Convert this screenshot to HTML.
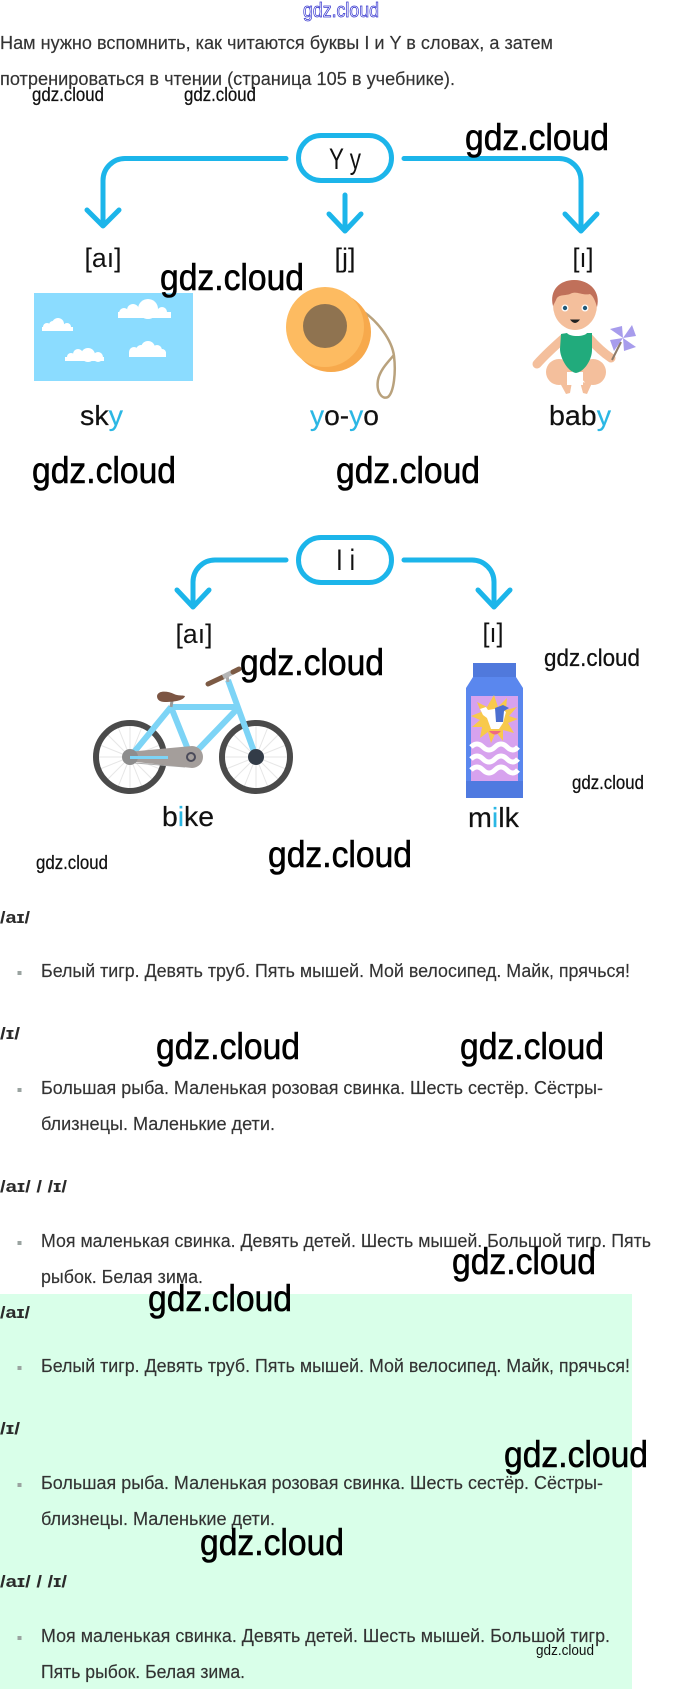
<!DOCTYPE html>
<html lang="ru">
<head>
<meta charset="utf-8">
<title>gdz.cloud</title>
<style>
html,body{margin:0;padding:0;background:#fff;width:680px;height:1689px;overflow:hidden}
svg{display:block}
text{font-family:"Liberation Sans","DejaVu Sans",sans-serif}
.t{font-size:18px;fill:#333;stroke:#333;stroke-width:.15}
.b{font-size:17px;font-weight:bold;fill:#2b2b2b}
.w{font-size:37px;fill:#000;stroke:#000;stroke-width:.6}
.s{font-size:19px;fill:#111;stroke:#111;stroke-width:.25}
.l{font-size:27px;fill:#111}
.h{font-size:30px;fill:#111}
.k{font-size:28px;fill:#111;stroke:#111;stroke-width:.2}
.c{fill:#2bb7e4;stroke:#2bb7e4}
.a{fill:none;stroke:#1cb5ea;stroke-width:5;stroke-linecap:round;stroke-linejoin:round}
</style>
</head>
<body>
<svg xmlns="http://www.w3.org/2000/svg" width="680" height="1689" viewBox="0 0 680 1689">
<rect width="680" height="1689" fill="#fff"/>
<rect x="0" y="1294" width="632" height="395" fill="#d9ffe9"/>

<!-- Intro -->
<text x="0" y="49" class="t" textLength="553" lengthAdjust="spacingAndGlyphs">Нам нужно вспомнить, как читаются буквы I и Y в словах, а затем</text>
<text x="0" y="85" class="t" textLength="455" lengthAdjust="spacingAndGlyphs">потренироваться в чтении (страница 105 в учебнике).</text>

<!-- Diagram Y -->
<rect x="298.500" y="135.500" width="93" height="45" rx="22.500" fill="#fff" class="a"/>
<text x="329" y="169" class="h" textLength="32" lengthAdjust="spacingAndGlyphs">Y y</text>
<path class="a" d="M286 158.500H125A22 22 0 0 0 103 180.500V226M87 210L103 226L119 210"/>
<path class="a" d="M345 195V231M329 214L345 231L361 214"/>
<path class="a" d="M404 158.500H559A22 22 0 0 1 581 180.500V231M565 214L581 231L597 214"/>
<text x="103" y="267" text-anchor="middle" class="l" textLength="37" lengthAdjust="spacingAndGlyphs">[aı]</text>
<text x="345" y="267" text-anchor="middle" class="l">[j]</text>
<text x="583" y="267" text-anchor="middle" class="l" textLength="21" lengthAdjust="spacingAndGlyphs">[ı]</text>

<!-- Sky -->
<rect x="34" y="293" width="159" height="88" fill="#8bdcff"/>
<g fill="#fff">
<rect x="118" y="312" width="53" height="6"/><circle cx="124" cy="313" r="5"/><circle cx="133" cy="310" r="6"/><circle cx="148" cy="309" r="10"/><circle cx="162" cy="312" r="5"/><circle cx="168" cy="315" r="3"/>
<rect x="42" y="327" width="31" height="4"/><circle cx="47" cy="327" r="4"/><circle cx="58" cy="324" r="6"/><circle cx="53" cy="325" r="4"/><circle cx="67" cy="327" r="4"/>
<rect x="65" y="357" width="39" height="4"/><circle cx="71" cy="357" r="4"/><circle cx="78" cy="354" r="5"/><circle cx="88" cy="355" r="7"/><circle cx="98" cy="357" r="5"/>
<rect x="129" y="352" width="37" height="5"/><circle cx="134" cy="352" r="5"/><circle cx="141" cy="350" r="5"/><circle cx="148" cy="348" r="7"/><circle cx="157" cy="350" r="5"/><circle cx="162" cy="353" r="4"/>
</g>

<!-- Yo-yo -->
<path d="M364 312C378 322 392 340 394 356C396 372 394 392 388 397C382 400 376 392 378 380C380 370 388 362 394 355" fill="none" stroke="#b9a27d" stroke-width="2.500"/>
<ellipse cx="331" cy="332" rx="40" ry="40" fill="#f7a94c"/>
<ellipse cx="325" cy="327" rx="39" ry="40" fill="#fdbb61"/>
<ellipse cx="325" cy="326" rx="22" ry="22" fill="#8f7350"/>

<!-- Baby -->
<g>
<path d="M564 338C556 345 546 354 537 364" fill="none" stroke="#f4bf9c" stroke-width="9" stroke-linecap="round"/>
<path d="M589 338C596 346 602 352 611 358" fill="none" stroke="#f4bf9c" stroke-width="9" stroke-linecap="round"/>
<ellipse cx="559" cy="372" rx="13" ry="13" fill="#f4bf9c"/>
<ellipse cx="593" cy="372" rx="13" ry="13" fill="#f4bf9c"/>
<path d="M560 383L572 382L570 393L566 394Z" fill="#f4bf9c"/>
<path d="M580 382L592 383L587 394L583 393Z" fill="#f4bf9c"/>
<rect x="567" y="372" width="16" height="13" fill="#fff"/>
<path d="M561 334L567 333C570 337 584 337 587 333L592 333L592 350C592 360 584 372 576 373C568 372 560 358 560 349Z" fill="#21ab7c"/>
<ellipse cx="575" cy="305" rx="22" ry="25" fill="#f4bf9c"/>
<path d="M553 306C549 290 560 280 574 280C590 280 601 292 597 307C595 300 593 296 590 294C582 296 576 290 570 294C564 296 558 294 556 300Z" fill="#c0705a"/>
<circle cx="565" cy="308" r="3.500" fill="#fff"/><circle cx="565" cy="308" r="2.200" fill="#235a7a"/>
<circle cx="585" cy="308" r="3.500" fill="#fff"/><circle cx="585" cy="308" r="2.200" fill="#235a7a"/>
<path d="M571 320Q575 325 579 320Z" fill="#222" stroke="#222" stroke-width="1"/>
<line x1="612" y1="360" x2="621" y2="342" stroke="#8d7b6a" stroke-width="2"/>
<g fill="#a79cec">
<path d="M623 338L610 329L622 326Z"/>
<path d="M623 338L632 325L636 336Z"/>
<path d="M623 338L636 347L624 351Z"/>
<path d="M623 338L614 351L610 340Z"/>
</g>
</g>

<!-- Words -->
<text x="80" y="425" class="k" textLength="43" lengthAdjust="spacingAndGlyphs">sk<tspan class="c">y</tspan></text>
<text x="310" y="425" class="k" textLength="69" lengthAdjust="spacingAndGlyphs"><tspan class="c">y</tspan>o-<tspan class="c">y</tspan>o</text>
<text x="549" y="425" class="k" textLength="62" lengthAdjust="spacingAndGlyphs">bab<tspan class="c">y</tspan></text>

<!-- Diagram I -->
<rect x="298.500" y="537.500" width="93" height="45" rx="22.500" fill="#fff" class="a"/>
<text x="336" y="570" class="h" textLength="19" lengthAdjust="spacingAndGlyphs">I i</text>
<path class="a" d="M286 560H215A22 22 0 0 0 193 582V607M177 590L193 607L209 590"/>
<path class="a" d="M404 560H472A22 22 0 0 1 494 582V607M478 590L494 607L510 590"/>
<text x="194" y="643" text-anchor="middle" class="l" textLength="37" lengthAdjust="spacingAndGlyphs">[aı]</text>
<text x="493" y="642" text-anchor="middle" class="l" textLength="21" lengthAdjust="spacingAndGlyphs">[ı]</text>

<!-- Bike -->
<g fill="none">
<g stroke="#e6e6e6" stroke-width="1">
<path d="M130 725V789M98 757H162M107 734L153 780M107 780L153 734M118 727L142 787M118 787L142 727M100 745L160 769M100 769L160 745"/>
<path d="M256 725V789M224 757H288M233 734L279 780M233 780L279 734M244 727L268 787M244 787L268 727M226 745L286 769M226 769L286 745"/>
</g>
<circle cx="130" cy="757" r="34" stroke="#4a4a4a" stroke-width="6"/>
<circle cx="256" cy="757" r="34" stroke="#4a4a4a" stroke-width="6"/>
<path d="M135 763L185 767" stroke="#aaa" stroke-width="1"/>
<path d="M171 707H239M239 707L191 757M171 707L191 757M171 707L130 757M228 680L256 757" stroke="#7dd4f6" stroke-width="6"/>
<path d="M127 752L192 746A11 11 0 0 1 192 768L127 761Z" fill="#a49e9b"/>
<circle cx="130" cy="757" r="8" fill="#8d8d8d"/>
<path d="M130 757.500H168" stroke="#7dd4f6" stroke-width="3"/>
<circle cx="191" cy="757" r="4" stroke="#4b4b5a" stroke-width="2" fill="#a49e9b"/>
<circle cx="256" cy="757" r="8" fill="#333c48"/>
<path d="M171 707L172 701" stroke="#999" stroke-width="3"/>
<path d="M157 696C158 690 168 691 174 694C178 696 182 695 185 696C184 700 176 702 165 702C160 702 157 700 157 696Z" fill="#7c5543"/>
<path d="M227 675L228 682" stroke="#aaa" stroke-width="3"/>
<path d="M208 684L223 677" stroke="#7c5a44" stroke-width="5" stroke-linecap="round"/>
<path d="M223 677L233 672" stroke="#b5b5b5" stroke-width="5"/>
<path d="M233 672L239 669" stroke="#7c5a44" stroke-width="5" stroke-linecap="round"/>
</g>

<!-- Milk -->
<g>
<path d="M473 663H516V677L523 688V798H466V688L473 677Z" fill="#5a87ee"/>
<path d="M473 663H516V677H473Z" fill="#5079dc"/>
<path d="M466 781H523V798H466Z" fill="#4f7ae0"/>
<rect x="471" y="696" width="47" height="85" fill="#d7a2ee"/>
<path d="M494 695L498 707L507 698L506 710L517 707L509 716L518 719L508 723L514 733L503 730L503 741L496 732L491 743L488 732L480 738L482 727L472 727L480 720L471 716L481 712L477 702L487 707Z" fill="#f8c94b"/>
<path d="M480 709L486 707L488 710L500 708L506 712L503 723L499 729H491L487 718L483 715Z" fill="#fff"/>
<path d="M495 708L503 705L509 708L504 711L503 722L496 722Z" fill="#4c6fd0"/>
<path d="M489 731Q495 738 501 731Z" fill="#ef6a80"/>
<g fill="none" stroke="#fff" stroke-width="5">
<path d="M471 747q6-6 12 0t12 0t12 0t11 0"/>
<path d="M471 759q6-6 12 0t12 0t12 0t11 0"/>
<path d="M471 770q6-6 12 0t12 0t12 0t11 0"/>
</g>
</g>

<text x="162" y="826" class="k" textLength="52" lengthAdjust="spacingAndGlyphs">b<tspan class="c">i</tspan>ke</text>
<text x="468" y="827" class="k" textLength="51" lengthAdjust="spacingAndGlyphs">m<tspan class="c">i</tspan>lk</text>

<!-- Block 1 -->
<text x="0" y="923" class="b" textLength="30" lengthAdjust="spacingAndGlyphs">/aɪ/</text>
<rect x="17.500" y="971" width="4" height="4" fill="#9aa3a0"/>
<text x="41" y="977" class="t" textLength="589" lengthAdjust="spacingAndGlyphs">Белый тигр. Девять труб. Пять мышей. Мой велосипед. Майк, прячься!</text>
<text x="0" y="1039" class="b" textLength="20" lengthAdjust="spacingAndGlyphs">/ɪ/</text>
<rect x="17.500" y="1088" width="4" height="4" fill="#9aa3a0"/>
<text x="41" y="1094" class="t" textLength="562" lengthAdjust="spacingAndGlyphs">Большая рыба. Маленькая розовая свинка. Шесть сестёр. Сёстры-</text>
<text x="41" y="1130" class="t" textLength="234" lengthAdjust="spacingAndGlyphs">близнецы. Маленькие дети.</text>
<text x="0" y="1192" class="b" textLength="67" lengthAdjust="spacingAndGlyphs">/aɪ/ / /ɪ/</text>
<rect x="17.500" y="1241" width="4" height="4" fill="#9aa3a0"/>
<text x="41" y="1247" class="t" textLength="610" lengthAdjust="spacingAndGlyphs">Моя маленькая свинка. Девять детей. Шесть мышей. Большой тигр. Пять</text>
<text x="41" y="1283" class="t" textLength="162" lengthAdjust="spacingAndGlyphs">рыбок. Белая зима.</text>

<!-- Block 2 -->
<text x="0" y="1318" class="b" textLength="30" lengthAdjust="spacingAndGlyphs">/aɪ/</text>
<rect x="17.500" y="1366" width="4" height="4" fill="#9aa3a0"/>
<text x="41" y="1372" class="t" textLength="589" lengthAdjust="spacingAndGlyphs">Белый тигр. Девять труб. Пять мышей. Мой велосипед. Майк, прячься!</text>
<text x="0" y="1434" class="b" textLength="20" lengthAdjust="spacingAndGlyphs">/ɪ/</text>
<rect x="17.500" y="1483" width="4" height="4" fill="#9aa3a0"/>
<text x="41" y="1489" class="t" textLength="562" lengthAdjust="spacingAndGlyphs">Большая рыба. Маленькая розовая свинка. Шесть сестёр. Сёстры-</text>
<text x="41" y="1525" class="t" textLength="234" lengthAdjust="spacingAndGlyphs">близнецы. Маленькие дети.</text>
<text x="0" y="1587" class="b" textLength="67" lengthAdjust="spacingAndGlyphs">/aɪ/ / /ɪ/</text>
<rect x="17.500" y="1636" width="4" height="4" fill="#9aa3a0"/>
<text x="41" y="1642" class="t" textLength="569" lengthAdjust="spacingAndGlyphs">Моя маленькая свинка. Девять детей. Шесть мышей. Большой тигр.</text>
<text x="41" y="1678" class="t" textLength="204" lengthAdjust="spacingAndGlyphs">Пять рыбок. Белая зима.</text>

<!-- Watermarks -->
<text x="303" y="17" font-size="20" fill="#fff" stroke="#3a3ad0" stroke-width=".8" textLength="76" lengthAdjust="spacingAndGlyphs">gdz.cloud</text>
<text x="32" y="101" class="s" textLength="72" lengthAdjust="spacingAndGlyphs">gdz.cloud</text>
<text x="184" y="101" class="s" textLength="72" lengthAdjust="spacingAndGlyphs">gdz.cloud</text>
<text x="465" y="150" class="w" textLength="144" lengthAdjust="spacingAndGlyphs">gdz.cloud</text>
<text x="160" y="290" class="w" textLength="144" lengthAdjust="spacingAndGlyphs">gdz.cloud</text>
<text x="32" y="483" class="w" textLength="144" lengthAdjust="spacingAndGlyphs">gdz.cloud</text>
<text x="336" y="483" class="w" textLength="144" lengthAdjust="spacingAndGlyphs">gdz.cloud</text>
<text x="240" y="675" class="w" textLength="144" lengthAdjust="spacingAndGlyphs">gdz.cloud</text>
<text x="544" y="666" font-size="24" fill="#111" stroke="#111" stroke-width=".25" textLength="96" lengthAdjust="spacingAndGlyphs">gdz.cloud</text>
<text x="572" y="789" class="s" textLength="72" lengthAdjust="spacingAndGlyphs">gdz.cloud</text>
<text x="36" y="869" class="s" textLength="72" lengthAdjust="spacingAndGlyphs">gdz.cloud</text>
<text x="268" y="867" class="w" textLength="144" lengthAdjust="spacingAndGlyphs">gdz.cloud</text>
<text x="156" y="1059" class="w" textLength="144" lengthAdjust="spacingAndGlyphs">gdz.cloud</text>
<text x="460" y="1059" class="w" textLength="144" lengthAdjust="spacingAndGlyphs">gdz.cloud</text>
<text x="452" y="1274" class="w" textLength="144" lengthAdjust="spacingAndGlyphs">gdz.cloud</text>
<text x="148" y="1311" class="w" textLength="144" lengthAdjust="spacingAndGlyphs">gdz.cloud</text>
<text x="504" y="1467" class="w" textLength="144" lengthAdjust="spacingAndGlyphs">gdz.cloud</text>
<text x="200" y="1555" class="w" textLength="144" lengthAdjust="spacingAndGlyphs">gdz.cloud</text>
<text x="536" y="1655" font-size="15" fill="#111" textLength="58" lengthAdjust="spacingAndGlyphs">gdz.cloud</text>
</svg>
</body>
</html>
